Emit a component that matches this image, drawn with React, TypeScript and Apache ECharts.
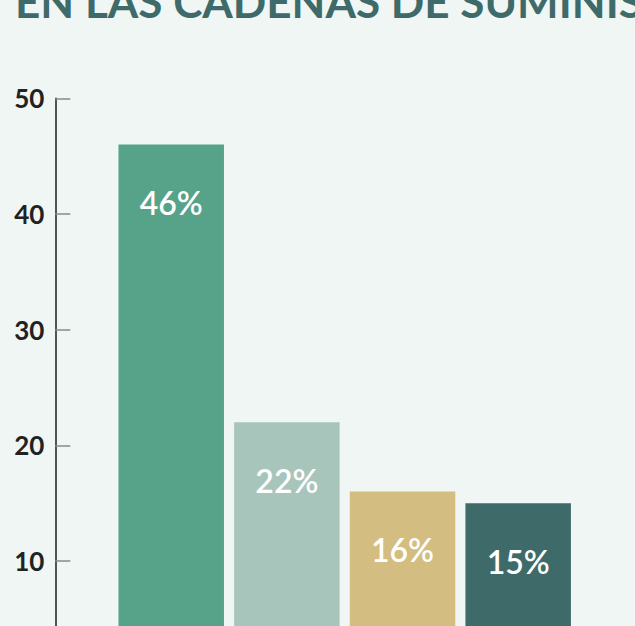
import React, { useEffect, useRef } from "react";
import * as echarts from "echarts";

const titleText = "EN LAS CADENAS DE SUMINISTRO";
const categories = ["Categoría 1", "Categoría 2", "Categoría 3", "Categoría 4"];
const values = [46, 22, 16, 15];
const barColors = ["#56a38a", "#a8c5bb", "#d3bd81", "#3e6b69"];
const yTicks = { min: 0, max: 50, interval: 10 };

export default function App() {
  const ref = useRef<HTMLDivElement>(null);
  useEffect(() => {
    if (!ref.current) return;
    const chart = echarts.init(ref.current, null, { renderer: "svg" });
    chart.setOption({
      animation: false,
      backgroundColor: "#f0f6f4",
      graphic: [
        {
          type: "text",
          left: 15,
          top: -20.6,
          style: {
            text: titleText,
            fontFamily: "Lato",
            fontWeight: "bold",
            fontSize: 44,
            fill: "#3e6b69",
          },
        },
      ],
      grid: { left: 113.4, right: 59, top: 98.3, bottom: 43.3, containLabel: false },
      xAxis: {
        type: "category",
        data: categories,
        axisLine: { show: false },
        axisTick: { show: false },
        axisLabel: { show: false },
      },
      yAxis: {
        type: "value",
        min: yTicks.min,
        max: yTicks.max,
        interval: yTicks.interval,
        offset: 58.1,
        splitLine: { show: false },
        axisLine: { show: true, lineStyle: { color: "#1e1e1e", width: 1.5 } },
        axisTick: { show: true, inside: true, length: 15, lineStyle: { color: "#8a8a8a", width: 1.5 } },
        axisLabel: {
          margin: 11,
          fontFamily: "Lato",
          fontWeight: "bold",
          fontSize: 26,
          color: "#222",
          formatter: (v: number) => (v === 0 ? "" : String(v)),
        },
      },
      series: [
        {
          type: "bar",
          barWidth: 105.5,
          data: values.map((v, i) => ({ value: v, itemStyle: { color: barColors[i] } })),
          label: {
            show: true,
            position: "insideTop",
            distance: 42,
            formatter: "{c}%",
            fontFamily: "Lato",
            fontWeight: 600,
            fontSize: 32,
            color: "#ffffff",
          },
        },
      ],
    });
    return () => chart.dispose();
  }, []);
  return (
    <div
      ref={ref}
      style={{ position: "fixed", left: 0, top: 0, width: 635, height: 720 }}
    />
  );
}
